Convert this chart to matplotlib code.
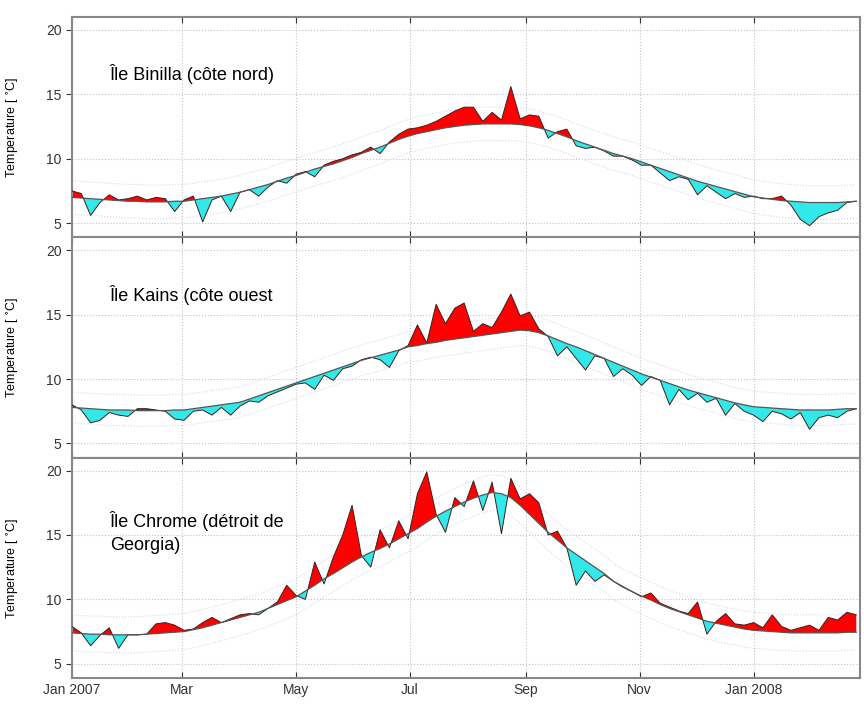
import numpy as np
import matplotlib
matplotlib.use("Agg")
import matplotlib.pyplot as plt
import matplotlib.dates as mdates
from matplotlib.ticker import FuncFormatter

plt.rcParams['font.family'] = ['Liberation Sans', 'DejaVu Sans']

# sampling: every 5 days starting 1 Jan 2007
start = np.datetime64('2007-01-01')
days = np.arange(0, 421, 5)
dates = start + days.astype('timedelta64[D]')

titles = ["Île Binilla (côte nord)",
          "Île Kains (côte ouest",
          "Île Chrome (détroit de\nGeorgia)"]

# --- Binilla ---
clim_binilla = [7.0, 6.95, 6.9, 6.85, 6.8, 6.75, 6.7, 6.7, 6.65, 6.65, 6.65, 6.7, 6.7, 6.8, 6.9,
                7.0, 7.1, 7.25, 7.4, 7.6, 7.8, 8.0, 8.25, 8.5, 8.7, 8.95, 9.2, 9.4, 9.6, 9.85,
                10.1, 10.4, 10.65, 10.9, 11.2, 11.5, 11.75, 11.95, 12.1, 12.25, 12.4, 12.5, 12.6,
                12.65, 12.7, 12.7, 12.7, 12.7, 12.65, 12.55, 12.4, 12.2, 11.95, 11.7, 11.4, 11.15,
                10.9, 10.65, 10.4, 10.2, 10.0, 9.75, 9.5, 9.25, 9.0, 8.75, 8.5, 8.25, 8.05, 7.85,
                7.65, 7.45, 7.25, 7.05, 6.95, 6.85, 6.75, 6.7, 6.65, 6.6, 6.6, 6.6, 6.6, 6.65, 6.7]
obs_binilla = [7.5, 7.3, 5.6, 6.6, 7.2, 6.8, 6.9, 7.1, 6.8, 7.0, 6.9, 5.9, 6.8, 7.1, 5.1,
               6.8, 7.1, 5.9, 7.4, 7.6, 7.1, 7.8, 8.3, 8.1, 8.8, 9.0, 8.6, 9.5, 9.8, 10.0,
               10.3, 10.5, 10.9, 10.4, 11.3, 11.9, 12.3, 12.4, 12.6, 12.9, 13.3, 13.7, 14.0,
               14.0, 12.9, 13.6, 13.0, 15.6, 13.1, 13.4, 13.3, 11.6, 12.1, 12.3, 11.0, 10.8,
               10.9, 10.6, 10.2, 10.2, 9.9, 9.5, 9.5, 8.9, 8.3, 8.6, 8.4, 7.2, 7.9, 7.4,
               6.9, 7.3, 7.0, 7.1, 6.9, 6.9, 7.1, 6.4, 5.3, 4.8, 5.5, 5.8, 6.0, 6.6, 6.7]

# --- Kains ---
clim_kains = [7.8, 7.75, 7.7, 7.65, 7.6, 7.6, 7.6, 7.55, 7.55, 7.55, 7.55, 7.6, 7.6, 7.7, 7.8,
              7.9, 8.0, 8.1, 8.2, 8.45, 8.7, 8.95, 9.2, 9.45, 9.7, 9.95, 10.2, 10.45, 10.7, 10.95,
              11.2, 11.45, 11.65, 11.85, 12.05, 12.25, 12.5, 12.6, 12.75, 12.85, 13.0, 13.1, 13.2,
              13.3, 13.4, 13.5, 13.6, 13.7, 13.8, 13.75, 13.6, 13.35, 13.05, 12.75, 12.5, 12.2,
              11.9, 11.6, 11.3, 11.0, 10.7, 10.4, 10.15, 9.9, 9.65, 9.4, 9.15, 8.95, 8.75, 8.55,
              8.35, 8.15, 8.0, 7.85, 7.8, 7.75, 7.7, 7.65, 7.6, 7.6, 7.6, 7.6, 7.65, 7.7, 7.7]
obs_kains = [8.0, 7.6, 6.6, 6.8, 7.4, 7.2, 7.1, 7.7, 7.7, 7.6, 7.5, 6.9, 6.8, 7.5, 7.6,
             7.2, 7.8, 7.2, 7.9, 8.3, 8.2, 8.7, 9.0, 9.3, 9.6, 9.7, 9.2, 10.3, 9.9, 10.8,
             11.0, 11.5, 11.7, 11.5, 10.9, 12.2, 12.6, 14.2, 12.8, 15.8, 14.3, 15.5, 15.9,
             13.7, 14.3, 14.0, 15.2, 16.6, 14.9, 15.2, 13.9, 13.3, 11.8, 12.5, 11.6, 10.7,
             11.8, 11.6, 10.2, 10.8, 10.3, 9.5, 10.2, 9.9, 8.0, 9.2, 8.4, 8.9, 8.2, 8.5,
             7.2, 8.1, 7.5, 7.2, 6.7, 7.5, 7.3, 6.9, 7.4, 6.1, 7.0, 7.2, 7.0, 7.5, 7.7]

# --- Chrome ---
clim_chrome = [7.4, 7.35, 7.3, 7.3, 7.25, 7.25, 7.25, 7.25, 7.3, 7.35, 7.4, 7.45, 7.5, 7.65, 7.8,
               8.0, 8.2, 8.4, 8.6, 8.8, 9.0, 9.3, 9.6, 9.9, 10.2, 10.65, 11.1, 11.6, 12.0, 12.45,
               12.9, 13.3, 13.65, 13.95, 14.3, 14.7, 15.1, 15.5, 16.0, 16.45, 16.85, 17.2, 17.55,
               17.85, 18.1, 18.3, 18.2, 17.9, 17.3, 16.6, 15.9, 15.2, 14.6, 14.0, 13.5, 13.0,
               12.5, 12.0, 11.4, 10.95, 10.6, 10.25, 9.95, 9.6, 9.3, 9.05, 8.8, 8.55, 8.3, 8.15,
               8.0, 7.85, 7.7, 7.6, 7.55, 7.5, 7.45, 7.4, 7.4, 7.4, 7.4, 7.4, 7.4, 7.45, 7.45]
obs_chrome = [7.9, 7.4, 6.4, 7.2, 7.8, 6.2, 7.25, 7.25, 7.3, 8.1, 8.2, 8.0, 7.6, 7.7, 8.2,
              8.6, 8.2, 8.5, 8.8, 8.9, 8.8, 9.3, 9.8, 11.1, 10.3, 10.0, 12.9, 11.2, 13.3, 15.0,
              17.3, 13.4, 12.5, 15.4, 14.0, 16.1, 14.7, 18.2, 19.9, 16.6, 15.2, 17.9, 17.2,
              19.2, 16.9, 19.1, 15.1, 19.4, 17.8, 18.2, 17.5, 15.0, 15.3, 14.0, 11.1, 12.2,
              11.4, 11.9, 11.4, 11.0, 10.6, 10.2, 10.5, 9.7, 9.4, 9.1, 8.9, 9.8, 7.3, 8.3,
              8.9, 8.1, 8.0, 8.2, 7.8, 8.8, 7.9, 7.6, 7.8, 8.0, 7.6, 8.6, 8.4, 9.0, 8.8]

# standard deviation band around climatology (dotted lines)
spread = [1.3, 1.2, 1.4]

clims = [clim_binilla, clim_kains, clim_chrome]
obss = [obs_binilla, obs_kains, obs_chrome]

fig, axes = plt.subplots(3, 1, figsize=(8.64, 7.08), dpi=100, sharex=True)
fig.subplots_adjust(left=0.0833, right=0.9954, top=0.976, bottom=0.0424, hspace=0)

for i, ax in enumerate(axes):
    clim = np.array(clims[i])
    obs = np.array(obss[i])

    ax.grid(True, color='#c4c4c4', linestyle=':', linewidth=0.8)
    ax.set_axisbelow(True)

    # faint +/- 1 sd lines, behind the fills
    ax.plot(dates, clim + spread[i], color='#d2d7f6', linestyle=':', linewidth=0.8, zorder=1)
    ax.plot(dates, clim - spread[i], color='#d2d7f6', linestyle=':', linewidth=0.8, zorder=1)

    ax.fill_between(dates, clim, obs, where=obs >= clim, interpolate=True,
                    color='#ff0000', linewidth=0, zorder=2)
    ax.fill_between(dates, clim, obs, where=obs < clim, interpolate=True,
                    color='#33e8e8', linewidth=0, zorder=2)
    ax.plot(dates, obs, color='#3a2020', linewidth=0.7, zorder=3)
    ax.plot(dates, clim, color='#555555', linewidth=0.9, zorder=3)

    ax.set_ylim(3.9, 21.0)
    ax.set_yticks([5, 10, 15, 20])
    ax.set_xlim(np.datetime64('2007-01-01'), np.datetime64('2008-02-27'))
    ax.set_ylabel('Temperature [ $^{\\circ}$C]', fontsize=9)
    ax.yaxis.set_label_coords(-0.065, 0.5)

    ax.text(0.048, 0.74 if i < 2 else 0.66, titles[i], transform=ax.transAxes,
            fontsize=13, va='center', ha='left', linespacing=1.45)

    for s in ax.spines.values():
        s.set_color('#888888')
        s.set_linewidth(1.5)
    ax.tick_params(axis='y', direction='out', length=4, labelsize=10, colors='#333333')
    ax.tick_params(axis='x', direction='in', length=4, top=True, labelsize=10, colors='#333333')

def month_label(x, pos):
    d = mdates.num2date(x)
    if d.month == 1:
        return d.strftime('%b %Y')
    return d.strftime('%b')

axes[-1].xaxis.set_major_locator(mdates.MonthLocator(bymonth=[1, 3, 5, 7, 9, 11]))
axes[-1].xaxis.set_major_formatter(FuncFormatter(month_label))

fig.savefig('out.png', dpi=100)
